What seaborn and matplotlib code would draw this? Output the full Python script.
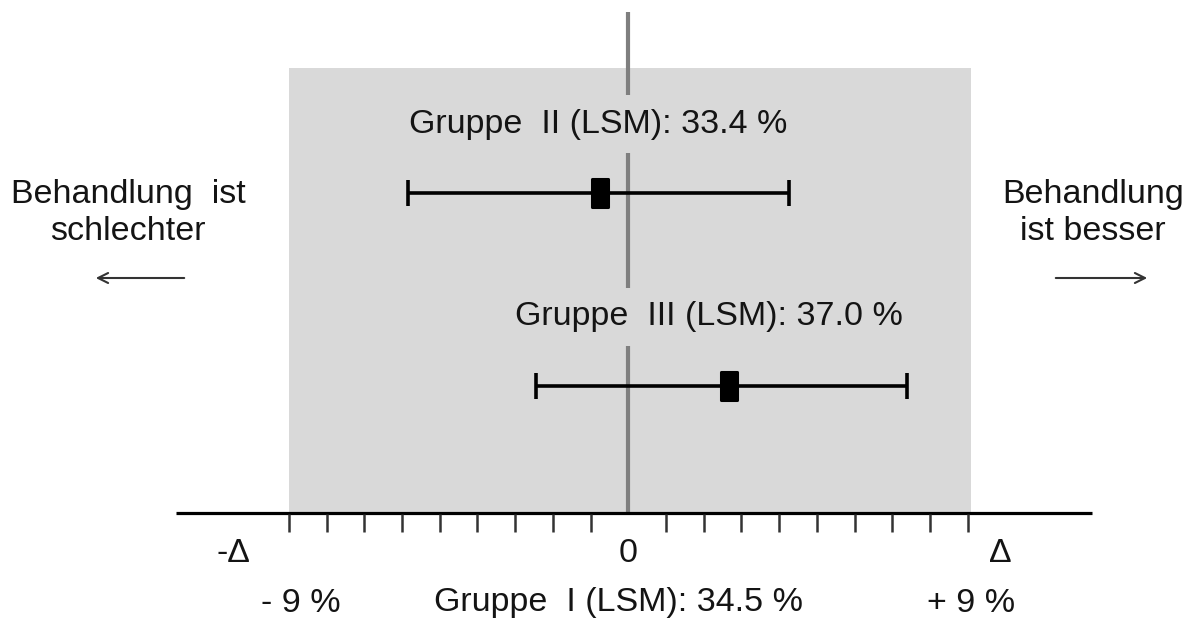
import numpy as np
import matplotlib
matplotlib.use("Agg")
import matplotlib.pyplot as plt
from matplotlib.patches import Rectangle
from matplotlib.path import Path
import seaborn as sns

# Data (differences to Gruppe I in percentage points)
group_labels = ["Gruppe  II (LSM): 33.4 %", "Gruppe  III (LSM): 37.0 %"]
diff_point = [-0.74, 2.66]
ci_lower = [-5.84, -2.45]
ci_upper = [4.27, 7.40]
margin = 9
tick_values = [v for v in range(-margin, margin + 1) if v != 0]
reference_label = "Gruppe  I (LSM): 34.5 %"

sns.set_theme(style="white")
plt.rcParams["font.family"] = ["Liberation Sans", "DejaVu Sans"]

TEXT = "#141414"
SHADE = "#d9d9d9"
FS = 24.5

fig = plt.figure(figsize=(11.89, 6.22), dpi=100)
ax = fig.add_axes([0, 0, 1, 1])
ax.set_axis_off()

# x in % units: zero at pixel 628.3, 37.7 px per unit; y in pixel rows
px_per_unit = 37.7
zero_px = 628.3
ax.set_xlim(-zero_px / px_per_unit, (1189 - zero_px) / px_per_unit)
ax.set_ylim(622, 0)

axis_y = 513
row_y = [193, 386]
label_y = [124, 317]

# equivalence region
ax.add_patch(Rectangle((-margin, 68), 2 * margin + 0.1, axis_y - 68,
                       facecolor=SHADE, edgecolor="none", zorder=0))

# zero line
ax.vlines(0, 12, axis_y, color="#7f7f7f", lw=3, zorder=1)

# axis with ticks
ax.hlines(axis_y, -12, 12.3, color="black", lw=2.3, zorder=3)
ax.vlines(tick_values, axis_y + 1, axis_y + 19, color="#333333", lw=1.8, zorder=3)

# confidence intervals
xerr = [np.array(diff_point) - np.array(ci_lower),
        np.array(ci_upper) - np.array(diff_point)]
ax.errorbar(diff_point, row_y, xerr=xerr, fmt="none", ecolor="black",
            elinewidth=2.6, capsize=9.7, capthick=2.6, zorder=4)

box = Path([(-0.28, -0.5), (0.28, -0.5), (0.28, 0.5), (-0.28, 0.5), (-0.28, -0.5)],
           [Path.MOVETO, Path.LINETO, Path.LINETO, Path.LINETO, Path.CLOSEPOLY])
sns.scatterplot(x=diff_point, y=row_y, ax=ax, marker=box, s=20 ** 2,
                color="black", edgecolor="black", linewidth=2.2, zorder=5)

# group labels (with shaded background masking the zero line)
for lab, y, x in zip(group_labels, label_y, [-0.8, 2.15]):
    ax.text(x, y, lab, ha="center", va="center", fontsize=FS, color=TEXT,
            zorder=6, bbox=dict(facecolor=SHADE, edgecolor="none", pad=9.5))

# axis annotations
ax.text((233 - zero_px) / px_per_unit, 554, "-Δ", ha="center", va="center",
        fontsize=FS, color=TEXT)
ax.text(0, 553, "0", ha="center", va="center", fontsize=FS, color=TEXT)
ax.text((1000 - zero_px) / px_per_unit, 554, "Δ", ha="center", va="center",
        fontsize=FS, color=TEXT)
ax.text((301 - zero_px) / px_per_unit, 603, f"- {margin} %", ha="center",
        va="center", fontsize=FS, color=TEXT)
ax.text((971 - zero_px) / px_per_unit, 603, f"+ {margin} %", ha="center",
        va="center", fontsize=FS, color=TEXT)
ax.text((619 - zero_px) / px_per_unit, 603, reference_label, ha="center",
        va="center", fontsize=FS, color=TEXT)

# side labels with arrows
ax.text((128 - zero_px) / px_per_unit, 213, "Behandlung  ist\nschlechter",
        ha="center", va="center", fontsize=FS, color=TEXT, linespacing=1.22)
ax.text((1093 - zero_px) / px_per_unit, 213, "Behandlung\nist besser",
        ha="center", va="center", fontsize=FS, color=TEXT, linespacing=1.22)
arrow = dict(arrowstyle="->", color="#333333", lw=1.5, mutation_scale=18)
ax.annotate("", xy=((93 - zero_px) / px_per_unit, 278),
            xytext=((187 - zero_px) / px_per_unit, 278), arrowprops=arrow)
ax.annotate("", xy=((1150 - zero_px) / px_per_unit, 278),
            xytext=((1053 - zero_px) / px_per_unit, 278), arrowprops=arrow)

fig.savefig("out.png", dpi=100)
